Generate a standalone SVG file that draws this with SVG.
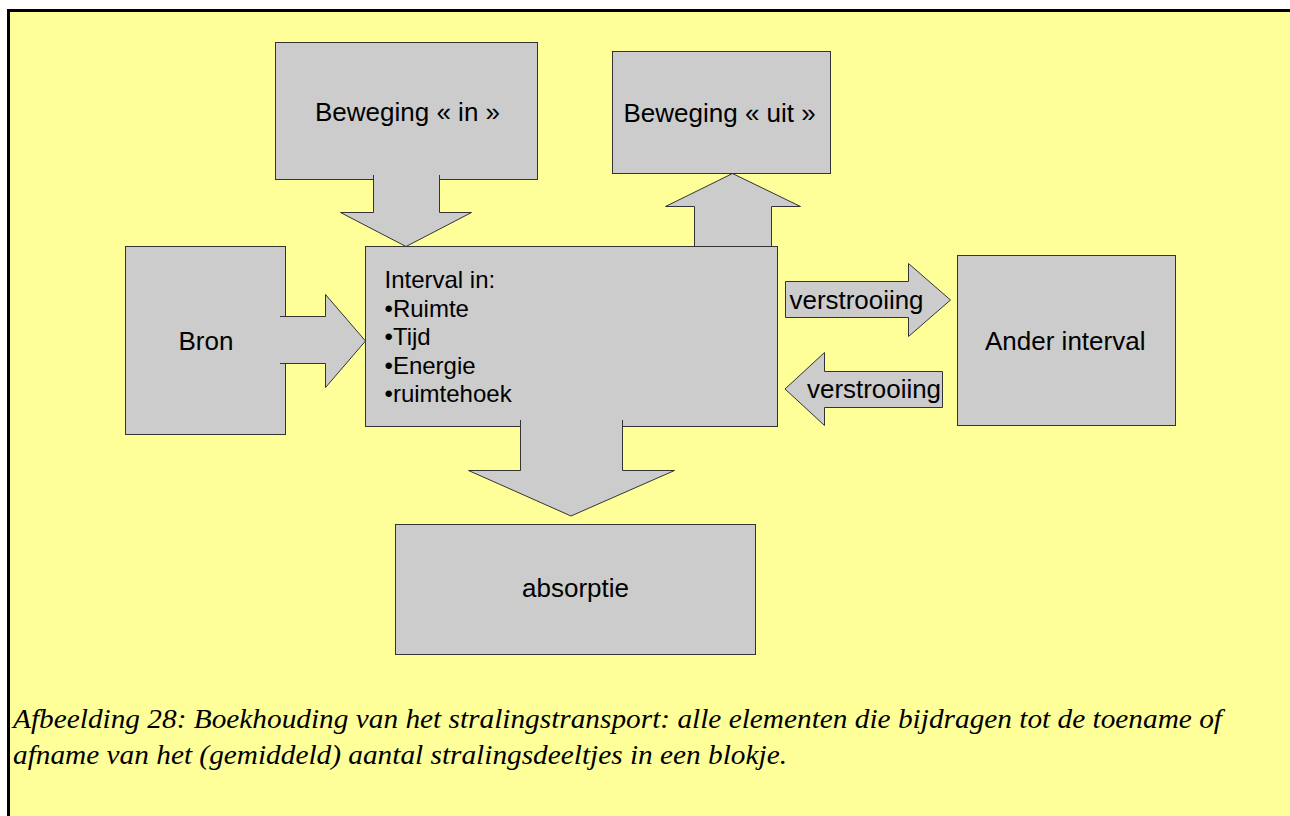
<svg xmlns="http://www.w3.org/2000/svg" width="1290" height="816" viewBox="0 0 1290 816">
  <style>
    .shape { fill: #cccccc; stroke: #333333; stroke-width: 1; stroke-linejoin: miter; }
    .lbl { font-family: "Liberation Sans", Arial, sans-serif; font-size: 26px; fill: #000000; }
    .list { font-family: "Liberation Sans", Arial, sans-serif; font-size: 24px; fill: #000000; }
    .caption { font-family: "Liberation Serif", "Times New Roman", serif; font-style: italic; font-size: 28px; fill: #000000; }
  </style>

  <!-- page frame: only the top and left edges fall inside the sheet -->
  <rect x="0" y="0" width="1290" height="816" fill="#ffffff"/>
  <rect x="10" y="12" width="1280" height="804" fill="#ffff99"/>
  <path d="M8.5,816 V10.5 H1290" fill="none" stroke="#000000" stroke-width="3"/>

  <!-- block arrows that sit behind the boxes -->
  <g id="connectors-back">
    <!-- out-going motion: upward arrow -->
    <path class="shape" d="M694.5,246.5 V206.5 H665.5 L732.5,173.5 L800.5,206.5 H771.5 V246.5 Z"/>
  </g>

  <g id="node-in">
    <rect class="shape" x="275.5" y="42.5" width="262" height="137"/>
    <text class="lbl" x="315" y="121">Beweging « in »</text>
  </g>

  <g id="node-out">
    <rect class="shape" x="612.5" y="51.5" width="218" height="122"/>
    <text class="lbl" x="623.5" y="122">Beweging « uit »</text>
  </g>

  <g id="node-interval">
    <rect class="shape" x="365.5" y="246.5" width="412" height="180"/>
    <text class="list" x="384.5" y="288">Interval in:</text>
    <text class="list" x="384.5" y="317">•Ruimte</text>
    <text class="list" x="384.5" y="345">•Tijd</text>
    <text class="list" x="384.5" y="373.5">•Energie</text>
    <text class="list" x="384.5" y="402">•ruimtehoek</text>
  </g>

  <g id="node-bron">
    <rect class="shape" x="125.5" y="246.5" width="160" height="188"/>
    <text class="lbl" x="178.5" y="350">Bron</text>
  </g>

  <g id="node-ander">
    <rect class="shape" x="957.5" y="255.5" width="218" height="170"/>
    <text class="lbl" x="985" y="350">Ander interval</text>
  </g>

  <g id="node-absorptie">
    <rect class="shape" x="395.5" y="524.5" width="360" height="130"/>
    <text class="lbl" x="522" y="597">absorptie</text>
  </g>

  <!-- block arrows merged into their source boxes (open paths: no stroke across the joint) -->
  <g id="connectors">
    <!-- incoming motion -->
    <path class="shape" d="M373.5,175 V212.5 H340.5 L406,246.5 L471.5,212.5 H439.5 V175"/>
    <!-- source -->
    <path class="shape" d="M280,316.5 H325.5 V294.5 L365.5,341 L325.5,387.5 V363.5 H280"/>
    <!-- absorption -->
    <path class="shape" d="M520.5,420 V470.5 H468.5 L571,516 L674.5,470.5 H622.5 V420"/>
    <!-- scattering out -->
    <path class="shape" d="M785.5,281.5 H908.5 V263.5 L950.5,300 L908.5,336.5 V317.5 H785.5 Z"/>
    <text class="lbl" x="789.5" y="308.5" textLength="134" lengthAdjust="spacingAndGlyphs">verstrooiing</text>
    <!-- scattering in -->
    <path class="shape" d="M785,389 L824.5,352.5 V371.5 H942.5 V407.5 H824.5 V425.5 Z"/>
    <text class="lbl" x="807" y="397.5" textLength="134" lengthAdjust="spacingAndGlyphs">verstrooiing</text>
  </g>

  <!-- caption -->
  <text class="caption" x="13" y="728" textLength="1209" lengthAdjust="spacingAndGlyphs">Afbeelding 28: Boekhouding van het stralingstransport: alle elementen die bijdragen tot de toename of</text>
  <text class="caption" x="13" y="764" textLength="774" lengthAdjust="spacingAndGlyphs">afname van het (gemiddeld) aantal stralingsdeeltjes in een blokje.</text>
</svg>
